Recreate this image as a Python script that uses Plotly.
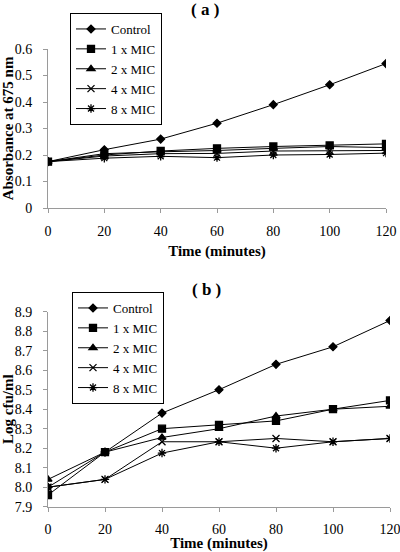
import plotly.graph_objects as go

time_min = [0, 20, 40, 60, 80, 100, 120]
series_names = ["Control", "1 x MIC", "2 x MIC", "4 x MIC", "8 x MIC"]

# Panel (a): Absorbance at 675 nm
abs_control = [0.175, 0.22, 0.26, 0.32, 0.39, 0.465, 0.545]
abs_1x = [0.175, 0.20, 0.215, 0.225, 0.232, 0.236, 0.242]
abs_2x = [0.175, 0.205, 0.212, 0.217, 0.225, 0.232, 0.228]
abs_4x = [0.175, 0.196, 0.205, 0.206, 0.215, 0.216, 0.217]
abs_8x = [0.175, 0.188, 0.195, 0.190, 0.200, 0.202, 0.207]

# Panel (b): Log cfu/ml
cfu_control = [8.00, 8.18, 8.38, 8.50, 8.63, 8.72, 8.855]
cfu_1x = [7.96, 8.18, 8.30, 8.32, 8.34, 8.40, 8.445]
cfu_2x = [8.04, 8.18, 8.255, 8.30, 8.365, 8.40, 8.415]
cfu_4x = [8.00, 8.04, 8.233, 8.233, 8.25, 8.233, 8.25]
cfu_8x = [8.00, 8.04, 8.175, 8.233, 8.20, 8.233, 8.25]

abs_ticks = [0, 0.1, 0.2, 0.3, 0.4, 0.5, 0.6]
cfu_ticks = [7.9, 8.0, 8.1, 8.2, 8.3, 8.4, 8.5, 8.6, 8.7, 8.8, 8.9]

symbols = ["diamond", "square", "triangle-up", "x-thin-open", "asterisk-open"]
sizes = [6, 7, 7, 7, 7]

FONT = "Liberation Serif"
AXC = "#9a9a9a"

fig = go.Figure()

for name, ys, sym, sz in zip(series_names, [abs_control, abs_1x, abs_2x, abs_4x, abs_8x], symbols, sizes):
    fig.add_trace(go.Scatter(
        x=time_min, y=ys, name=name, mode="lines+markers",
        line=dict(color="black", width=1),
        marker=dict(symbol=sym, size=sz, color="black", line=dict(color="black", width=1.3)),
        xaxis="x", yaxis="y", legend="legend"))

for name, ys, sym, sz in zip(series_names, [cfu_control, cfu_1x, cfu_2x, cfu_4x, cfu_8x], symbols, sizes):
    fig.add_trace(go.Scatter(
        x=time_min, y=ys, name=name, mode="lines+markers",
        line=dict(color="black", width=1),
        marker=dict(symbol=sym, size=sz, color="black", line=dict(color="black", width=1.3)),
        xaxis="x2", yaxis="y2", legend="legend2"))

ax_common = dict(showgrid=False, zeroline=False, showline=True, linecolor=AXC, linewidth=1,
                 ticks="outside", ticklen=4, tickcolor=AXC, tickwidth=1, automargin=False,
                 ticklabeloverflow="allow",
                 tickfont=dict(family=FONT, size=14, color="black"))
ov_common = dict(showgrid=False, zeroline=False, showline=False, ticks="inside", ticklen=4,
                 tickcolor=AXC, tickwidth=1, showticklabels=False, automargin=False)

xa_dom = [48/400, 386/400]
xb_dom = [48/400, 390/400]
ya_dom = [1 - 208/552, 1 - 49/552]
yb_dom = [1 - 506.7/552, 1 - 311.7/552]

fig.update_layout(
    width=400, height=552, margin=dict(l=0, r=0, t=0, b=0, autoexpand=False),
    paper_bgcolor="white", plot_bgcolor="white",
    font=dict(family=FONT, color="black"),
    xaxis=dict(domain=xa_dom, range=[0, 120], tickvals=time_min, anchor="y",
               title=dict(text="<b>Time (minutes)</b>", font=dict(family=FONT, size=15), standoff=7),
               ticklabelstandoff=6, **ax_common),
    yaxis=dict(domain=ya_dom, range=[0, 0.6], tickvals=abs_ticks, anchor="x",
               title=dict(text="<b>Absorbance at 675 nm</b>", font=dict(family=FONT, size=15), standoff=5),
               ticklabelstandoff=8, **ax_common),
    xaxis2=dict(domain=xb_dom, range=[0, 120], tickvals=time_min, anchor="y2",
                title=dict(text="<b>Time (minutes)</b>", font=dict(family=FONT, size=15), standoff=0),
                ticklabelstandoff=5, **ax_common),
    yaxis2=dict(domain=yb_dom, range=[7.9, 8.9], tickvals=cfu_ticks, tickformat=".1f", anchor="x2",
                title=dict(text="<b>Log cfu/ml</b>", font=dict(family=FONT, size=15), standoff=5),
                ticklabelstandoff=8, **ax_common),
    xaxis3=dict(overlaying="x", anchor="y", domain=xa_dom, range=[0, 120], tickvals=time_min, **ov_common),
    yaxis3=dict(overlaying="y", anchor="x", domain=ya_dom, range=[0, 0.6], tickvals=abs_ticks, **ov_common),
    xaxis4=dict(overlaying="x2", anchor="y2", domain=xb_dom, range=[0, 120], tickvals=time_min, **ov_common),
    yaxis4=dict(overlaying="y2", anchor="x2", domain=yb_dom, range=[7.9, 8.9], tickvals=cfu_ticks, **ov_common),
    legend=dict(x=70/400, y=1 - 13/552, xanchor="left", yanchor="top",
                bordercolor="black", borderwidth=1, bgcolor="white",
                font=dict(family=FONT, size=13), itemwidth=30, tracegroupgap=0),
    legend2=dict(x=72/400, y=1 - 292/552, xanchor="left", yanchor="top",
                 bordercolor="black", borderwidth=1, bgcolor="white",
                 font=dict(family=FONT, size=13), itemwidth=30, tracegroupgap=0),
    annotations=[
        dict(text="<b>( a )</b>", x=0.5125, y=1 - 10/552, xref="paper", yref="paper",
             xanchor="center", yanchor="middle",
             showarrow=False, font=dict(family=FONT, size=17)),
        dict(text="<b>( b )</b>", x=0.5175, y=1 - 289/552, xref="paper", yref="paper",
             xanchor="center", yanchor="middle",
             showarrow=False, font=dict(family=FONT, size=17)),
    ],
    showlegend=True,
)

fig.write_html("out.html", config={"displayModeBar": False},
               post_script="document.body.style.margin='0';")
